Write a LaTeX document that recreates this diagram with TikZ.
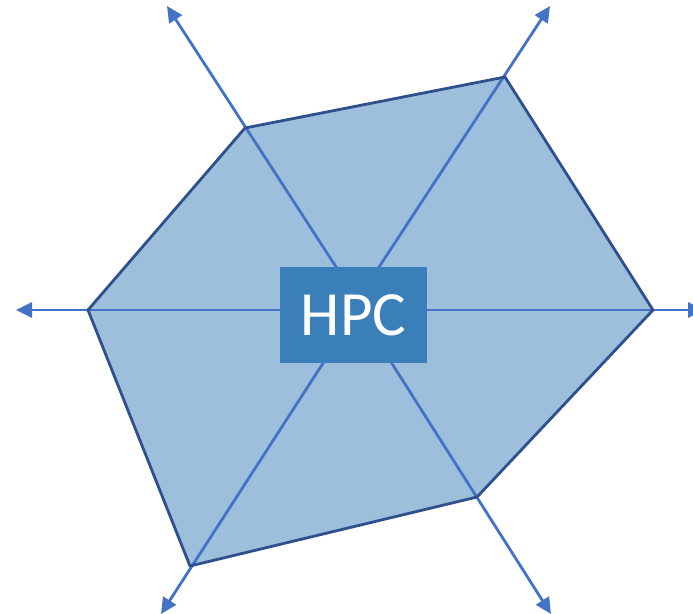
\documentclass[tikz,border=0pt]{standalone}
\usepackage{fontspec}
\setmainfont{Carlito}
\usetikzlibrary{arrows.meta}
\definecolor{hexfill}{RGB}{157,191,219}
\definecolor{hexedge}{RGB}{47,80,140}
\definecolor{axisblue}{RGB}{68,114,196}
\definecolor{boxblue}{RGB}{59,127,186}
\tikzset{
  axis/.style={draw=axisblue, line width=2.8pt, -{Triangle[length=16pt,width=15pt]}},
  hexline/.style={draw=hexedge, line width=2.8pt, line join=round},
  corebox/.style={fill=boxblue, draw=none, minimum width=147pt, minimum height=96pt,
    inner sep=0pt, text=white, font=\fontsize{63}{63}\selectfont}
}
\begin{document}
\begin{tikzpicture}[x=1pt,y=-1pt]
\useasboundingbox (0,0) rectangle (693,613);
\clip (0,0) rectangle (693,613);
% hexagon corners
\coordinate (v1) at (245,128);
\coordinate (v2) at (505,77);
\coordinate (v3) at (653,310);
\coordinate (v4) at (477,497);
\coordinate (v5) at (190,566);
\coordinate (v6) at (88,310);
% axis tips and inner ends
\coordinate (t1) at (167,6);
\coordinate (t2) at (550,6);
\coordinate (t3) at (704,310);
\coordinate (t4) at (551,614);
\coordinate (t5) at (161,614);
\coordinate (t6) at (16,310);
\coordinate (c1) at (351,290);
\coordinate (c2) at (364,290);
\coordinate (c3) at (353,310);
\coordinate (c4) at (377,340);
\coordinate (c5) at (338,340);
\coordinate (c6) at (353,310);
% filled hexagon
\fill[hexfill] (v1) -- (v2) -- (v3) -- (v4) -- (v5) -- (v6) -- cycle;
% axes
\foreach \i in {1,...,6} {
  \draw[axis] (c\i) -- (t\i);
}
% hexagon outline
\draw[hexline] (v1) -- (v2) -- (v3) -- (v4) -- (v5) -- (v6) -- cycle;
% central label
\node[corebox] (hpc) at (353.5,315) {HPC};
\end{tikzpicture}
\end{document}
